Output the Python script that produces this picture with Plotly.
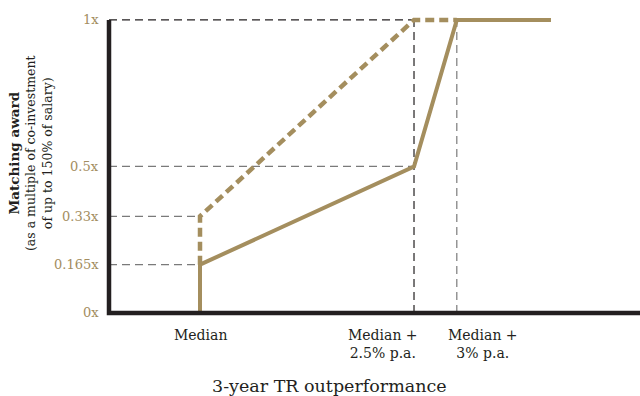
import plotly.graph_objects as go

# Performance thresholds (% p.a. above median) and their labels
threshold_x = [0.0, 2.5, 3.0]
threshold_labels = ["Median", "Median +<br>2.5% p.a.", "Median +<br>3% p.a."]

# Award levels on the vertical axis
award_levels = [0.0, 0.165, 0.33, 0.5, 1.0]
award_labels = ["0x", "0.165x", "0.33x", "0.5x", "1x"]

# Vesting schedules
solid_x = [0.0, 0.0, 2.5, 3.0, 4.1]
solid_y = [0.0, 0.165, 0.5, 1.0, 1.0]
dashed_x = [0.0, 0.0, 2.5, 3.0]
dashed_y = [0.165, 0.33, 1.0, 1.0]

GOLD = "#A48E5E"
GOLD_TEXT = "#A38D60"
INK = "#231F20"
GREY = "#7A7A7A"
SERIF = "DejaVu Serif"

AXIS_X = -1.063
X_RANGE = [-1.285, 5.14]
Y_RANGE = [-0.041, 1.034]

fig = go.Figure()

fig.add_trace(go.Scatter(
    x=dashed_x, y=dashed_y, mode="lines",
    line=dict(color=GOLD, width=4.5, dash="9px,5px"),
    hoverinfo="skip", showlegend=False,
))
fig.add_trace(go.Scatter(
    x=solid_x, y=solid_y, mode="lines",
    line=dict(color=GOLD, width=4),
    hoverinfo="skip", showlegend=False,
))

shapes = []
guide = dict(width=1.2, dash="8px,5px")
# horizontal guides from the axis to the threshold reached at each level
h_guides = [(award_levels[1], threshold_x[0], GREY),
            (award_levels[2], threshold_x[0], GREY),
            (award_levels[3], threshold_x[1], GREY),
            (award_levels[4], threshold_x[1], INK)]
for yv, xe, col in h_guides:
    shapes.append(dict(type="line", xref="x", yref="y", x0=AXIS_X, x1=xe,
                       y0=yv, y1=yv, layer="below",
                       line=dict(color=col, **guide)))
# vertical guides at the upper thresholds
for xv, col in [(threshold_x[1], INK), (threshold_x[2], GREY)]:
    shapes.append(dict(type="line", xref="x", yref="y", x0=xv, x1=xv,
                       y0=award_levels[0], y1=award_levels[-1], layer="below",
                       line=dict(color=col, **guide)))
# axis frame
shapes.append(dict(type="path", xref="x", yref="y",
                   path=f"M {AXIS_X},{award_levels[-1]} L {AXIS_X},0 L {X_RANGE[1] + 0.2},0",
                   line=dict(color=INK, width=4.5), layer="above"))

annotations = []
for yv, lab in zip(award_levels, award_labels):
    annotations.append(dict(x=AXIS_X, y=yv, xref="x", yref="y", text=lab,
                            showarrow=False, xanchor="right", yanchor="middle",
                            xshift=-8, font=dict(family=SERIF, size=13, color=GOLD_TEXT)))

label_anchor = [("center", 0), ("right", 6), ("left", -11)]
for xv, lab, (anc, sh) in zip(threshold_x, threshold_labels, label_anchor):
    annotations.append(dict(x=xv, y=0, xref="x", yref="y", text=lab,
                            showarrow=False, xanchor=anc, yanchor="top",
                            xshift=sh, yshift=-12, align="center",
                            font=dict(family=SERIF, size=14, color=INK)))

annotations.append(dict(x=0.436, y=-0.194, xref="paper", yref="paper",
                        text="3-year TR outperformance", showarrow=False,
                        xanchor="center", yanchor="middle",
                        font=dict(family=SERIF, size=17.5, color=INK)))

annotations.append(dict(x=-0.109, y=0.546, xref="paper", yref="paper",
                        text="<b><span style='font-size:13.5px'>Matching award</span></b><br>(as a multiple of co-investment<br>of up to 150% of salary)",
                        showarrow=False, textangle=-90, xanchor="center", yanchor="middle",
                        align="center",
                        font=dict(family=SERIF, size=12.5, color=INK)))

fig.update_layout(
    width=640, height=396,
    margin=dict(l=90, r=0, t=10, b=71),
    paper_bgcolor="white", plot_bgcolor="white",
    xaxis=dict(range=X_RANGE, visible=False, fixedrange=True),
    yaxis=dict(range=Y_RANGE, visible=False, fixedrange=True),
    shapes=shapes, annotations=annotations,
    showlegend=False,
)

fig.write_html("out.html")
